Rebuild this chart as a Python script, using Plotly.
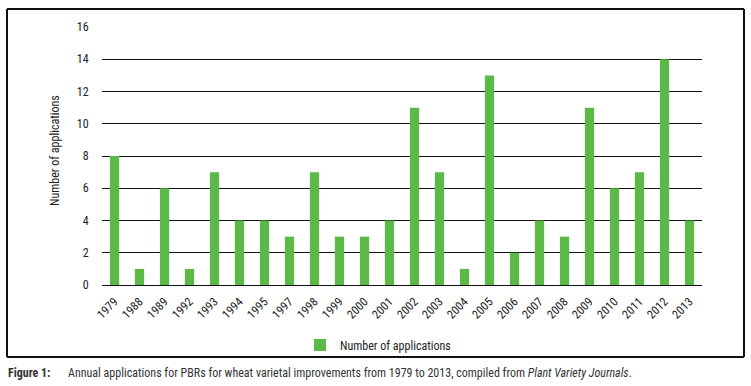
import plotly.graph_objects as go

years = ["1979", "1988", "1989", "1992", "1993", "1994", "1995", "1997", "1998", "1999",
         "2000", "2001", "2002", "2003", "2004", "2005", "2006", "2007", "2008", "2009",
         "2010", "2011", "2012", "2013"]
applications = [8, 1, 6, 1, 7, 4, 4, 3, 7, 3, 3, 4, 11, 7, 1, 13, 2, 4, 3, 11, 6, 7, 14, 4]
y_ticks = [0, 2, 4, 6, 8, 10, 12, 14, 16]

FONT = "Liberation Sans Narrow, Arial Narrow, Roboto Condensed, sans-serif"
GREEN = "#5bb947"

W, H = 751, 386
L, R, T, B = 102, 49, 27, 101
pw, ph = W - L - R, H - T - B

def px(x):
    return (x - L) / pw

def py(y):
    return (H - B - y) / ph

fig = go.Figure()
fig.add_trace(go.Bar(x=years, y=applications, name="Number of applications",
                     marker=dict(color=GREEN, line=dict(width=0))))

fig.update_layout(
    width=W, height=H,
    margin=dict(l=L, r=R, t=T, b=B),
    paper_bgcolor="white", plot_bgcolor="white",
    font=dict(family=FONT, size=12, color="#222"),
    bargap=0.63,
    showlegend=True,
    legend=dict(orientation="h", x=px(378), xanchor="center", y=py(345), yanchor="middle",
                font=dict(family=FONT, size=12, color="#222"), bgcolor="rgba(0,0,0,0)"),
    xaxis=dict(type="category", tickangle=-45, showgrid=False, showline=False,
               ticks="outside", ticklen=4, tickcolor="rgba(0,0,0,0)",
               tickfont=dict(family=FONT, size=12, color="#222")),
    yaxis=dict(range=[0, 16], tickvals=y_ticks, showgrid=True, gridcolor="#111", gridwidth=1,
               zeroline=True, zerolinecolor="#111", zerolinewidth=1, showline=False,
               ticks="outside", ticklen=10, tickcolor="rgba(0,0,0,0)",
               tickfont=dict(family=FONT, size=12, color="#222")),
)

fig.add_annotation(text="Number of applications", xref="paper", yref="paper",
                   x=px(55), y=py(151), textangle=-90, showarrow=False,
                   font=dict(family=FONT, size=12, color="#222"),
                   xanchor="center", yanchor="middle")

# outer frame
bx0, bx1, by0, by1 = px(7), px(744), py(357), py(9)
for (x0, y0, x1, y1) in [(bx0, by1, bx1, by1), (bx0, by0, bx1, by0),
                         (bx0, by0, bx0, by1), (bx1, by0, bx1, by1)]:
    fig.add_shape(type="line", xref="paper", yref="paper", x0=x0, y0=y0, x1=x1, y1=y1,
                  line=dict(color="#111", width=2), layer="above")

fig.add_annotation(text="<b>Figure 1:</b>", xref="paper", yref="paper",
                   x=px(6), y=py(373), xanchor="left", yanchor="middle", showarrow=False,
                   font=dict(family=FONT, size=12, color="#333"))
fig.add_annotation(text="Annual applications for PBRs for wheat varietal improvements from 1979 to 2013, compiled from <i>Plant Variety Journals</i>.",
                   xref="paper", yref="paper",
                   x=px(66), y=py(373), xanchor="left", yanchor="middle", showarrow=False,
                   font=dict(family=FONT, size=12, color="#333"))

fig.write_html("out.html", config={"displayModeBar": False})

with open("out.html", "r", encoding="utf-8") as f:
    html = f.read()
html = html.replace("<head>", "<head><style>html,body{margin:0;padding:0;overflow:hidden;}</style>", 1)
with open("out.html", "w", encoding="utf-8") as f:
    f.write(html)
